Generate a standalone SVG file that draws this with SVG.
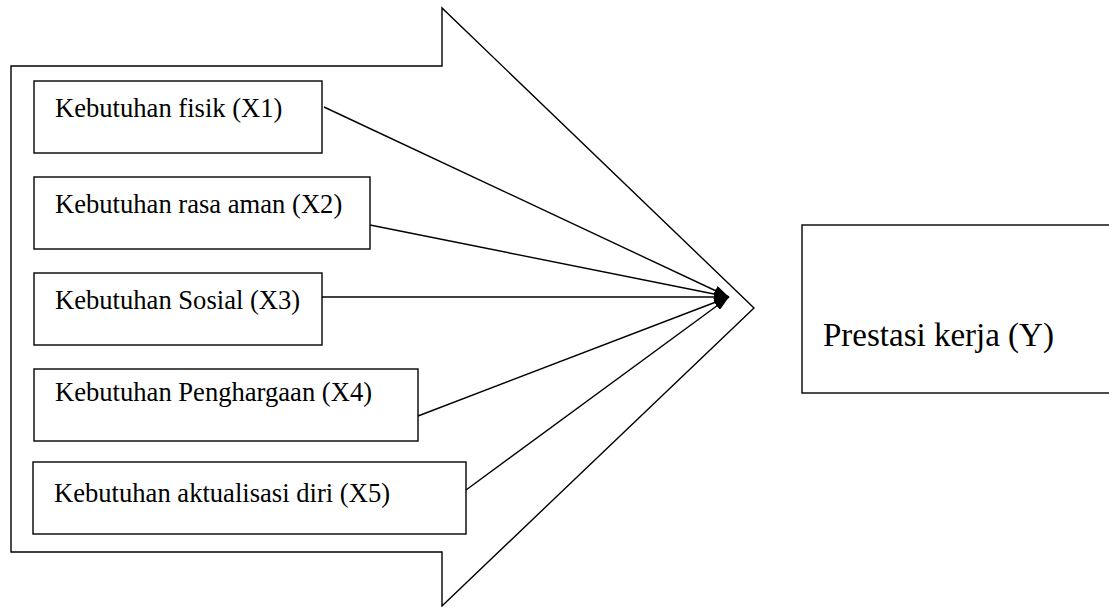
<svg xmlns="http://www.w3.org/2000/svg" width="1109" height="607" viewBox="0 0 1109 607">
<style>
.shape{fill:none;stroke:#000;stroke-width:1.4}
.box{fill:#fff;stroke:#000;stroke-width:1.4}
.lbl{font-family:"Liberation Serif","Times New Roman",serif;font-size:26.6px;fill:#000}
.big{font-family:"Liberation Serif","Times New Roman",serif;font-size:33px;fill:#000}
.con{stroke:#000;stroke-width:1.4;fill:none;marker-end:url(#ah)}
</style>
<defs>
<marker id="ah" markerUnits="userSpaceOnUse" markerWidth="16" markerHeight="10" refX="15" refY="5" orient="auto">
<path d="M0,0 L15,5 L0,10 z" fill="#000"/>
</marker>
</defs>
<rect width="1109" height="607" fill="#fff"/>
<g id="bigarrow">
<polygon class="shape" points="11,66 442,66 442,8 754,308 442,606 442,552 11,552"/>
</g>
<g id="x1">
<rect class="box" x="34" y="81" width="288" height="72"/>
<text class="lbl" x="55" y="117">Kebutuhan fisik (X1)</text>
</g>
<g id="x2">
<rect class="box" x="34" y="177" width="336" height="72"/>
<text class="lbl" x="55" y="213">Kebutuhan rasa aman (X2)</text>
</g>
<g id="x3">
<rect class="box" x="34" y="273" width="288" height="72"/>
<text class="lbl" x="55" y="309">Kebutuhan Sosial (X3)</text>
</g>
<g id="x4">
<rect class="box" x="34" y="369" width="384" height="72"/>
<text class="lbl" x="55" y="401">Kebutuhan Penghargaan (X4)</text>
</g>
<g id="x5">
<rect class="box" x="33" y="462" width="433" height="72"/>
<text class="lbl" x="54" y="502">Kebutuhan aktualisasi diri (X5)</text>
</g>
<g id="y">
<rect class="box" x="802" y="225" width="320" height="168"/>
<text class="big" x="823" y="346">Prestasi kerja (Y)</text>
</g>
<g id="connectors">
<line class="con" x1="324" y1="107" x2="729" y2="297"/>
<line class="con" x1="370" y1="225" x2="729" y2="297"/>
<line class="con" x1="322" y1="297" x2="729" y2="297"/>
<line class="con" x1="418" y1="416" x2="729" y2="297"/>
<line class="con" x1="466" y1="490" x2="729" y2="297"/>
</g>
</svg>
